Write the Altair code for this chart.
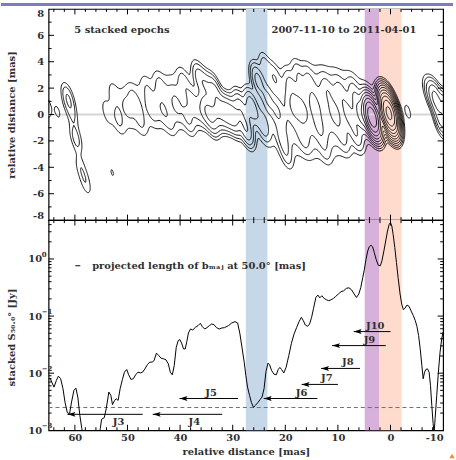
import numpy as np
import pandas as pd
import altair as alt
from collections import defaultdict

FONT = "DejaVu Serif"
INK = "#2f2f2f"
W, H1, H2 = 398, 213, 212

# ---------------- stacked profile along the jet ----------------
dist = [64.71, 64.40, 63.96, 63.52, 63.14, 62.70, 62.26, 61.88, 61.44, 61.01, 60.63, 60.19,
        59.81, 59.44, 59.06, 58.68, 58.31, 57.36, 55.80, 55.17, 54.92, 54.41, 54.04, 53.54,
        53.16, 52.85, 52.47, 52.15, 51.78, 51.40, 50.96, 50.58, 50.15, 49.77, 49.33, 48.89,
        48.45, 48.01, 47.51, 47.13, 46.69, 46.19, 45.75, 45.31, 44.94, 44.50, 44.06, 43.62,
        43.12, 42.68, 42.24, 41.86, 41.48, 41.11, 40.73, 40.35, 40.04, 39.72, 39.35, 39.03,
        38.72, 38.41, 38.03, 37.59, 37.09, 36.59, 36.15, 35.77, 35.33, 34.89, 34.45, 34.01,
        33.57, 33.07, 32.57, 32.07, 31.56, 30.82, 30.19, 29.57, 29.06, 28.62, 28.19, 27.81,
        27.50, 27.18, 26.80, 26.43, 26.05, 25.67, 25.24, 24.80, 24.42, 24.04, 23.67, 23.29,
        22.98, 22.60, 22.16, 21.72, 21.34, 21.03, 20.72, 20.28, 19.84, 19.33, 18.83, 18.33,
        17.83, 17.39, 16.95, 16.57, 16.20, 15.76, 15.38, 15.00, 14.63, 14.19, 13.81, 13.43,
        13.06, 12.62, 12.18, 11.74, 11.30, 10.86, 10.42, 9.92, 9.42, 8.91, 8.41, 7.91,
        7.41, 6.90, 6.47, 6.03, 5.65, 5.27, 4.96, 4.65, 4.33, 4.02, 3.70, 3.39,
        3.08, 2.70, 2.32, 1.95, 1.63, 1.26, 0.88, 0.57, 0.25, 0.00, -0.25, -0.50,
        -0.82, -1.13, -1.44, -1.82, -2.13, -2.45, -2.76, -3.14, -3.52, -3.89, -4.33, -4.71,
        -5.02, -5.34, -5.65, -5.96, -6.21, -6.47, -6.72, -7.03, -7.34, -7.60, -7.85, -8.10,
        -8.29, -8.48, -8.79, -9.10, -9.42, -9.73, -9.98]
flux = [8.18e-3, 6.97e-3, 5.70e-3, 7.45e-3, 8.87e-3, 7.98e-3, 5.33e-3, 3.12e-3, 2.03e-3, 1.95e-3, 3.12e-3, 4.99e-3,
        5.48e-3, 3.82e-3, 1.83e-3, 1.07e-3, 7.1e-4, 3.6e-4, 4.8e-4, 1.07e-3, 1.56e-3, 1.66e-3, 2.39e-3, 4.67e-3,
        4.08e-3, 2.81e-3, 3.30e-3, 3.57e-3, 3.33e-3, 5.33e-3, 7.76e-3, 1.04e-2, 1.16e-2, 9.35e-3, 7.76e-3, 7.98e-3,
        9.35e-3, 1.04e-2, 1.01e-2, 1.04e-2, 1.19e-2, 1.42e-2, 1.56e-2, 1.56e-2, 1.66e-2, 2.24e-2, 2.04e-2, 1.83e-2,
        1.78e-2, 1.71e-2, 1.46e-2, 1.04e-2, 9.35e-3, 1.36e-2, 2.84e-2, 3.72e-2, 3.87e-2, 3.39e-2, 2.66e-2, 2.66e-2,
        3.57e-2, 5.06e-2, 5.94e-2, 5.71e-2, 6.35e-2, 6.79e-2, 7.46e-2, 6.53e-2, 5.94e-2, 6.27e-2, 6.79e-2, 7.26e-2,
        7.08e-2, 6.27e-2, 5.94e-2, 6.18e-2, 6.27e-2, 6.79e-2, 7.57e-2, 7.98e-2, 7.57e-2, 4.86e-2, 2.66e-2, 1.56e-2,
        9.12e-3, 5.70e-3, 4.08e-3, 3.04e-3, 2.52e-3, 2.73e-3, 3.04e-3, 3.43e-3, 3.82e-3, 5.33e-3, 1.07e-2, 1.50e-2,
        1.40e-2, 1.11e-2, 9.62e-3, 9.35e-3, 1.16e-2, 1.26e-2, 1.16e-2, 1.01e-2, 1.27e-2, 2.04e-2, 3.34e-2, 4.86e-2,
        6.35e-2, 7.98e-2, 9.51e-2, 8.32e-2, 6.98e-2, 6.62e-2, 7.26e-2, 9.51e-2, 0.136, 0.212, 0.233, 0.209,
        0.227, 0.204, 0.193, 0.186, 0.193, 0.204, 0.221, 0.243, 0.267, 0.277, 0.305, 0.313,
        0.289, 0.243, 0.212, 0.243, 0.317, 0.474, 0.662, 0.991, 1.38, 1.65, 1.74, 1.63,
        1.29, 0.964, 0.778, 0.757, 0.927, 1.38, 2.15, 3.09, 4.05, 4.33, 3.78, 2.70,
        1.58, 0.867, 0.474, 0.243, 0.162, 0.129, 0.138, 0.156, 0.148, 0.124, 0.102, 8.32e-2,
        6.62e-2, 4.55e-2, 2.66e-2, 1.36e-2, 7.98e-3, 1.04e-2, 1.16e-2, 1.19e-2, 1.04e-2, 6.10e-3, 2.73e-3, 1.31e-3,
        8.9e-4, 1.60e-3, 4.08e-3, 1.04e-2, 2.33e-2, 3.98e-2, 5.20e-2]

# ---------------- jet component tracks (arrows) ----------------
jet_names = ["J3", "J4", "J5", "J6", "J7", "J8", "J9", "J10"]
jet_start = [47.1, 32.0, 29.0, 13.9, 10.0, 5.8, 0.9, 0.0]
jet_tip = [61.4, 45.2, 40.1, 24.1, 16.9, 13.2, 11.1, 7.0]
jet_level = [0.0019, 0.0019, 0.0036, 0.0036, 0.00635, 0.0121, 0.0304, 0.0535]
jet_label_x = [51.7, 37.3, 34.1, 16.9, 12.1, 8.1, 4.0, 2.9]
jet_label_below = [True, True, False, False, False, False, False, False]
noise_level = 0.0025

# ---------------- highlighted regions ----------------
band_lo = [23.4, 2.1, -2.1]
band_hi = [27.5, 4.9, 2.1]
band_color = ["#c6d7e8", "#d7b1d9", "#fedbcc"]

# ---------------- stacked map: Gaussian components ----------------
# restoring beam (FWHM in mas, position angle from +x in degrees)
beam_major, beam_minor, beam_angle = 2.2, 1.2, 40.0
# compact components: centre (mas) and peak brightness (Jy/beam)
knot_x = [65.6, 63.3, 61.3, 60.5, 59.8, 58.9, 57.9, 53.9, 52.9,
          52.6, 51.7, 50.0, 48.8, 47.4, 46.3, 45.2,
          43.8, 43.4, 42.0, 40.7, 39.3, 38.4, 37.6, 36.4,
          35.2, 35.0, 34.0, 33.5, 33.0, 31.2, 29.8, 28.6,
          27.4, 26.4, 25.2, 24.2, 23.3, 23.8,
          22.0, 21.5, 20.5, 19.8, 19.0, 18.5, 17.5, 17.0, 16.5, 15.5, 14.5, 13.5, 12.5, 12.0,
          10.5, 9.5, 9.0, 7.9, 6.8, 6.5, 5.6,
          3.5, 0.3, -3.3,
          -7.3, -8.6, -9.6, -10.8]
knot_y = [0.7, 0.2, 1.2, 0.0, -1.8, -4.0, -5.2, 0.2, -4.4,
          1.6, -0.4, 0.5, 1.1, -0.6, 2.0, 0.3,
          2.2, 0.4, -0.5, 0.7, 2.4, -0.4, 1.0, 2.8,
          0.6, 2.2, -0.4, 1.8, 1.2, 0.2, -0.3, 0.6,
          -1.1, 0.6, 2.6, -0.8, 1.2, 3.6,
          2.8, 0.2, -1.8, -3.0, 2.2, 0.6, 3.0, 0.4, -1.8, 2.6, 0.8, -1.0, -2.6, 1.8,
          0.0, 1.6, -1.8, 0.0, 1.5, -1.5, 0.0,
          -0.2, 0.1, 0.2,
          1.8, 1.2, -0.4, 0.3]
knot_peak = [0.0045, 0.0023, 0.0085, 0.0035, 0.0055, 0.0032, 0.0032, 0.0021, 0.0021,
             0.002, 0.003, 0.002, 0.003, 0.0025, 0.002, 0.003,
             0.003, 0.004, 0.003, 0.005, 0.004, 0.006, 0.006, 0.01,
             0.012, 0.012, 0.015, 0.015, 0.01, 0.02, 0.025, 0.015,
             0.03, 0.025, 0.02, 0.012, 0.015, 0.006,
             0.006, 0.012, 0.008, 0.005, 0.007, 0.01, 0.005, 0.014, 0.007, 0.006, 0.01, 0.01, 0.004, 0.008,
             0.012, 0.007, 0.006, 0.014, 0.01, 0.012, 0.04,
             0.9, 2.6, 0.0023,
             0.006, 0.04, 0.02, 0.05]
# extended emission: centre, peak and intrinsic FWHM along x / y (mas)
ext_x = [49.5, 41.0, 32.0, 14.0]
ext_y = [0.5, 1.0, 0.1, 0.2]
ext_peak = [0.003, 0.005, 0.035, 0.012]
ext_wx = [7.0, 8.0, 6.0, 14.0]
ext_wy = [3.0, 3.0, 0.0, 4.0]
contour_levels = [0.002, 0.004, 0.008, 0.016, 0.032, 0.064, 0.128, 0.256, 0.512, 1.024, 2.048]


def brightness(xs, ys):
    gx, gy = np.meshgrid(xs, ys)
    k = 2.3548
    t = np.radians(beam_angle)
    rot = np.array([[np.cos(t), -np.sin(t)], [np.sin(t), np.cos(t)]])
    beam_cov = rot @ np.diag([(beam_major / k) ** 2, (beam_minor / k) ** 2]) @ rot.T
    comps = [(x, y, p, 0.0, 0.0) for x, y, p in zip(knot_x, knot_y, knot_peak)]
    comps += list(zip(ext_x, ext_y, ext_peak, ext_wx, ext_wy))
    img = np.zeros_like(gx)
    for cx, cy, p, wx, wy in comps:
        inv = np.linalg.inv(beam_cov + np.diag([(wx / k) ** 2, (wy / k) ** 2]))
        dx, dy = gx - cx, gy - cy
        img += p * np.exp(-0.5 * (inv[0, 0] * dx * dx + 2 * inv[0, 1] * dx * dy + inv[1, 1] * dy * dy))
    return img


CASES = {1: ((3, 0),), 2: ((0, 1),), 3: ((3, 1),), 4: ((1, 2),), 5: ((3, 0), (1, 2)),
         6: ((0, 2),), 7: ((3, 2),), 8: ((2, 3),), 9: ((0, 2),), 10: ((0, 1), (2, 3)),
         11: ((1, 2),), 12: ((1, 3),), 13: ((0, 1),), 14: ((0, 3),)}


def iso_lines(img, xs, ys, level):
    b = (img > level).astype(int)
    code = b[:-1, :-1] | (b[:-1, 1:] << 1) | (b[1:, 1:] << 2) | (b[1:, :-1] << 3)

    def edge(e, i, j):
        return (("h", i, j), ("v", i, j + 1), ("h", i + 1, j), ("v", i, j))[e]

    adj = defaultdict(list)
    for i, j in zip(*np.nonzero((code > 0) & (code < 15))):
        for a, c in CASES[int(code[i, j])]:
            ka, kc = edge(a, i, j), edge(c, i, j)
            adj[ka].append(kc)
            adj[kc].append(ka)

    def where(k):
        kind, i, j = k
        if kind == "h":
            f0, f1 = img[i, j], img[i, j + 1]
            s = (level - f0) / (f1 - f0)
            return xs[j] + s * (xs[j + 1] - xs[j]), ys[i]
        f0, f1 = img[i, j], img[i + 1, j]
        s = (level - f0) / (f1 - f0)
        return xs[j], ys[i] + s * (ys[i + 1] - ys[i])

    seen, paths = set(), []
    for start in [k for k, v in adj.items() if len(v) == 1] + list(adj):
        if start in seen:
            continue
        chain, cur = [start], start
        seen.add(start)
        while True:
            nxt = [n for n in adj[cur] if n not in seen]
            if not nxt:
                break
            cur = nxt[0]
            seen.add(cur)
            chain.append(cur)
        if len(chain) > 2 and start in adj[chain[-1]]:
            chain.append(start)
        paths.append([where(k) for k in chain])
    return paths


grid_x = np.linspace(-10, 65, 376)
grid_y = np.linspace(-8, 8, 201)
img = brightness(grid_x, grid_y)
rows = []
cid = 0
for lev in contour_levels:
    for path in iso_lines(img, grid_x, grid_y, lev):
        for k, (px, py) in enumerate(path):
            rows.append((cid, k, round(float(px), 3), round(float(py), 3)))
        cid += 1
contours = pd.DataFrame(rows, columns=["cid", "k", "x", "y"])

# ---------------- scales ----------------
XS = alt.Scale(domain=[-10, 65], reverse=True, nice=False, zero=False)
YT = alt.Scale(domain=[-8, 8], nice=False, zero=False)
YB = alt.Scale(type="log", domain=[0.001, 4.8], nice=False)

x_major = [60, 50, 40, 30, 20, 10, 0]
x_minor = [v for v in range(-8, 65, 2) if v % 10 != 0]
yt_major = [-6, -4, -2, 0, 2, 4, 6]
yt_minor = [-7, -5, -3, -1, 1, 3, 5, 7]
yb_major = [0.01, 0.1, 1.0]
yb_minor = [m * d for d in (0.001, 0.01, 0.1) for m in range(2, 10)] + [2.0, 3.0, 4.0]
decades = [1.0, 0.1, 0.01, 0.001]
decade_exp = ["0", "−1", "−2", "−3"]


def xticks(values, length, height):
    d = pd.DataFrame({"v": values})
    bot = alt.Chart(d).mark_rule(color="black", strokeWidth=1).encode(
        x=alt.X("v:Q", scale=XS, axis=None), y=alt.value(height), y2=alt.value(height - length))
    top = alt.Chart(d).mark_rule(color="black", strokeWidth=1).encode(
        x=alt.X("v:Q", scale=XS, axis=None), y=alt.value(0), y2=alt.value(length))
    return [bot, top]


def yticks(values, length, scale):
    d = pd.DataFrame({"v": values})
    left = alt.Chart(d).mark_rule(color="black", strokeWidth=1).encode(
        y=alt.Y("v:Q", scale=scale, axis=None), x=alt.value(0), x2=alt.value(length))
    right = alt.Chart(d).mark_rule(color="black", strokeWidth=1).encode(
        y=alt.Y("v:Q", scale=scale, axis=None), x=alt.value(W), x2=alt.value(W - length))
    return [left, right]


bands = pd.DataFrame({"lo": band_lo, "hi": band_hi, "c": band_color})


def band_layer(height):
    return alt.Chart(bands).mark_rect().encode(
        x=alt.X("lo:Q", scale=XS, axis=None), x2="hi:Q",
        y=alt.value(0), y2=alt.value(height), color=alt.Color("c:N", scale=None))


def note(text, x, y, align="left", size=10):
    return alt.Chart(pd.DataFrame({"t": [text]})).mark_text(
        font=FONT, fontWeight="bold", fontSize=size, color=INK, align=align, baseline="middle"
    ).encode(text="t:N", x=alt.value(x), y=alt.value(y))


# ---------------- top panel: stacked map ----------------
zero_line = alt.Chart(pd.DataFrame({"z": [0.0]})).mark_rule(color="#d6d6d6", strokeWidth=2).encode(
    y=alt.Y("z:Q", scale=YT, axis=None), x=alt.value(0), x2=alt.value(W))

contour_layer = alt.Chart(contours).mark_line(color="black", strokeWidth=0.9).encode(
    x=alt.X("x:Q", scale=XS, axis=None),
    y=alt.Y("y:Q", scale=YT, axis=alt.Axis(
        values=[-8, -6, -4, -2, 0, 2, 4, 6, 8], labelExpr="'' + datum.value",
        labelPadding=5, labelFlush=True, title="relative distance [mas]",
        titleX=-37, titleBaseline="middle")),
    detail="cid:N", order="k:Q")

header_bar = alt.Chart(pd.DataFrame({"a": [0]})).mark_rect(color="#7d7dbd").encode(
    x=alt.value(-48), x2=alt.value(408), y=alt.value(-6), y2=alt.value(-3))

top = alt.layer(
    band_layer(H1), zero_line, contour_layer,
    *xticks(x_major, 5.5, H1), *xticks(x_minor, 3, H1),
    *yticks(yt_major, 5.5, YT), *yticks(yt_minor, 3, YT),
    note("5 stacked epochs", 26, 21),
    note("2007-11-10 to 2011-04-01", 371, 21, align="right"),
    header_bar,
).resolve_axis(x="independent", y="independent").properties(width=W, height=H1)

# ---------------- bottom panel: stacked profile ----------------
profile = pd.DataFrame({"d": dist, "s": flux})
profile_layer = alt.Chart(profile).mark_line(color="black", strokeWidth=1, clip=True).encode(
    x=alt.X("d:Q", scale=XS, axis=alt.Axis(
        values=[60, 50, 40, 30, 20, 10, 0, -10], labelExpr="'' + datum.value",
        labelPadding=2, title="relative distance [mas]", titleY=21, titleBaseline="middle")),
    y=alt.Y("s:Q", scale=YB, axis=alt.Axis(
        values=decades, labelAlign="left", labelPadding=21, labelExpr="'10'",
        title="stacked S₅₀.₀° [Jy]", titleX=-37, titleY=118, titleBaseline="middle")),
    order="d:Q")

exponents = alt.Chart(pd.DataFrame({"v": decades, "e": decade_exp})).mark_text(
    font=FONT, fontWeight="bold", fontSize=7, color=INK, align="left", baseline="middle", dy=-4
).encode(y=alt.Y("v:Q", scale=YB, axis=None), x=alt.value(-7), text="e:N")

noise = alt.Chart(pd.DataFrame({"n": [noise_level]})).mark_rule(
    color="#56739f", strokeWidth=1, strokeDash=[4, 3]).encode(
    y=alt.Y("n:Q", scale=YB, axis=None), x=alt.value(0), x2=alt.value(W))

arrows = pd.DataFrame({"name": jet_names, "a": jet_start, "b": jet_tip, "lev": jet_level,
                       "lx": jet_label_x, "below": jet_label_below})
arrow_lines = alt.Chart(arrows).mark_rule(color="black", strokeWidth=1).encode(
    x=alt.X("a:Q", scale=XS, axis=None), x2="b:Q", y=alt.Y("lev:Q", scale=YB, axis=None))
arrow_heads = alt.Chart(arrows).mark_point(
    shape="M0,0L2,-0.62L1.6,0L2,0.62Z", size=64, filled=True, color="black", opacity=1, strokeWidth=0
).encode(x=alt.X("b:Q", scale=XS, axis=None), y=alt.Y("lev:Q", scale=YB, axis=None))
labels_above = alt.Chart(arrows).transform_filter("!datum.below").mark_text(
    font=FONT, fontWeight="bold", fontSize=10, color=INK, baseline="middle", dy=-6
).encode(x=alt.X("lx:Q", scale=XS, axis=None), y=alt.Y("lev:Q", scale=YB, axis=None), text="name:N")
labels_below = alt.Chart(arrows).transform_filter("datum.below").mark_text(
    font=FONT, fontWeight="bold", fontSize=10, color=INK, baseline="middle", dy=8
).encode(x=alt.X("lx:Q", scale=XS, axis=None), y=alt.Y("lev:Q", scale=YB, axis=None), text="name:N")

beam_mark = alt.Chart(pd.DataFrame({"a": [0]})).mark_rule(color=INK, strokeWidth=1.2).encode(
    x=alt.value(27), x2=alt.value(32), y=alt.value(46))
corner = alt.Chart(pd.DataFrame({"a": [0]})).mark_point(
    shape="triangle-up", size=30, filled=True, color="#f0912e", opacity=1).encode(
    x=alt.value(407), y=alt.value(238))

bottom = alt.layer(
    band_layer(H2), noise, profile_layer, exponents, arrow_lines, arrow_heads, labels_above, labels_below,
    *xticks(x_major, 5.5, H2), *xticks(x_minor, 3, H2),
    *yticks(yb_major, 5.5, YB), *yticks(yb_minor, 3, YB),
    beam_mark, note("projected length of bₘₐⱼ at 50.0° [mas]", 44, 46),
    corner,
).resolve_axis(x="independent", y="independent").properties(width=W, height=H2)

chart = alt.vconcat(top, bottom, spacing=0, bounds="flush").properties(
    padding=0, background="white"
).configure_view(stroke="black", strokeWidth=1.2).configure_axis(
    labelFont=FONT, labelFontWeight="bold", labelFontSize=10, labelColor=INK,
    titleFont=FONT, titleFontWeight="bold", titleFontSize=10, titleColor=INK,
    domain=False, ticks=False, tickSize=0, grid=False)

chart.save("out.html", embed_options={"renderer": "svg", "actions": False})
